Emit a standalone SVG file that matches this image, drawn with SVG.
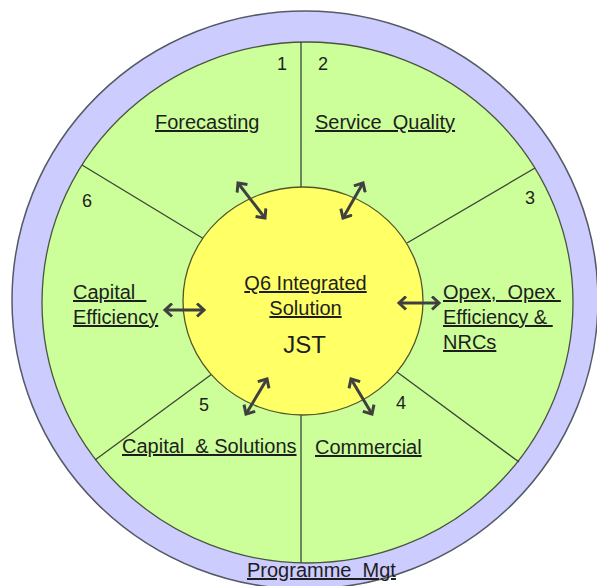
<svg xmlns="http://www.w3.org/2000/svg" width="597" height="586" viewBox="0 0 597 586">
  <defs>
    <style>
      .ring { fill: #ccccff; stroke: #555a66; stroke-width: 1.5; }
      .band { fill: #ccff99; stroke: #4a5540; stroke-width: 1.3; }
      .core { fill: #ffff66; stroke: #55552a; stroke-width: 1.3; }
      .divider { stroke: #3c4438; stroke-width: 1.3; fill: none; }
      .link { stroke: #404040; stroke-width: 3; fill: none; marker-start: url(#chev); marker-end: url(#chev); }
      text { font-family: "Liberation Sans", Arial, sans-serif; fill: #1e1e1e; }
      .lbl { font-size: 20px; text-decoration: underline; }
      .num { font-size: 18px; text-anchor: middle; }
      .mid { text-anchor: middle; }
    </style>
    <marker id="chev" viewBox="0 0 11 15" refX="8" refY="7.5" markerWidth="11" markerHeight="15" markerUnits="userSpaceOnUse" orient="auto-start-reverse">
      <path d="M1,1 L8,7.5 L1,14" fill="none" stroke="#404040" stroke-width="3" stroke-linejoin="miter"/>
    </marker>
  </defs>

  <!-- outer programme ring -->
  <g id="ring">
    <ellipse class="ring" cx="305" cy="300" rx="293" ry="289"/>
  </g>

  <!-- workstream band with six sectors -->
  <g id="band">
    <ellipse class="band" cx="307.5" cy="302.5" rx="265.5" ry="260.5"/>
  </g>

  <g id="dividers">
    <line class="divider" x1="301" y1="42" x2="301" y2="190"/>
    <line class="divider" x1="82" y1="165" x2="204" y2="239"/>
    <line class="divider" x1="535" y1="168" x2="407" y2="243"/>
    <line class="divider" x1="95" y1="460" x2="212" y2="374"/>
    <line class="divider" x1="519" y1="462" x2="397" y2="372"/>
    <line class="divider" x1="301" y1="412" x2="301" y2="563"/>
  </g>

  <!-- central solution -->
  <g id="core">
    <ellipse class="core" cx="303" cy="301" rx="120" ry="114"/>
    <text class="lbl mid" x="305.5" y="290">Q6 Integrated</text>
    <text class="lbl mid" x="305.5" y="315">Solution</text>
    <text class="mid" x="304.5" y="353" font-size="24">JST</text>
  </g>

  <!-- connectors between the core and each sector -->
  <g id="connectors">
    <line class="link" x1="238" y1="183" x2="265" y2="218"/>
    <line class="link" x1="363" y1="183" x2="343" y2="218"/>
    <line class="link" x1="165" y1="310" x2="204" y2="310"/>
    <line class="link" x1="399" y1="303" x2="439" y2="303"/>
    <line class="link" x1="267" y1="379" x2="246" y2="414"/>
    <line class="link" x1="351" y1="379" x2="372" y2="414"/>
  </g>

  <g id="sector-1">
    <text class="num" x="282" y="70">1</text>
    <text class="lbl" x="155" y="129">Forecasting</text>
  </g>
  <g id="sector-2">
    <text class="num" x="323" y="70">2</text>
    <text class="lbl" x="315" y="129" xml:space="preserve">Service  Quality</text>
  </g>
  <g id="sector-3">
    <text class="num" x="530" y="204">3</text>
    <text class="lbl" x="443" y="299" xml:space="preserve">Opex,  Opex </text>
    <text class="lbl" x="443" y="324" xml:space="preserve">Efficiency &amp; </text>
    <text class="lbl" x="443" y="349">NRCs</text>
  </g>
  <g id="sector-4">
    <text class="num" x="401" y="409">4</text>
    <text class="lbl" x="315" y="454">Commercial</text>
  </g>
  <g id="sector-5">
    <text class="num" x="204" y="411">5</text>
    <text class="lbl" x="122" y="453" xml:space="preserve">Capital  &amp; Solutions</text>
  </g>
  <g id="sector-6">
    <text class="num" x="87" y="207">6</text>
    <text class="lbl" x="73" y="299" xml:space="preserve">Capital  </text>
    <text class="lbl" x="73" y="324">Efficiency</text>
  </g>

  <g id="programme">
    <text class="lbl" x="247" y="577" xml:space="preserve">Programme  Mgt</text>
  </g>
</svg>
